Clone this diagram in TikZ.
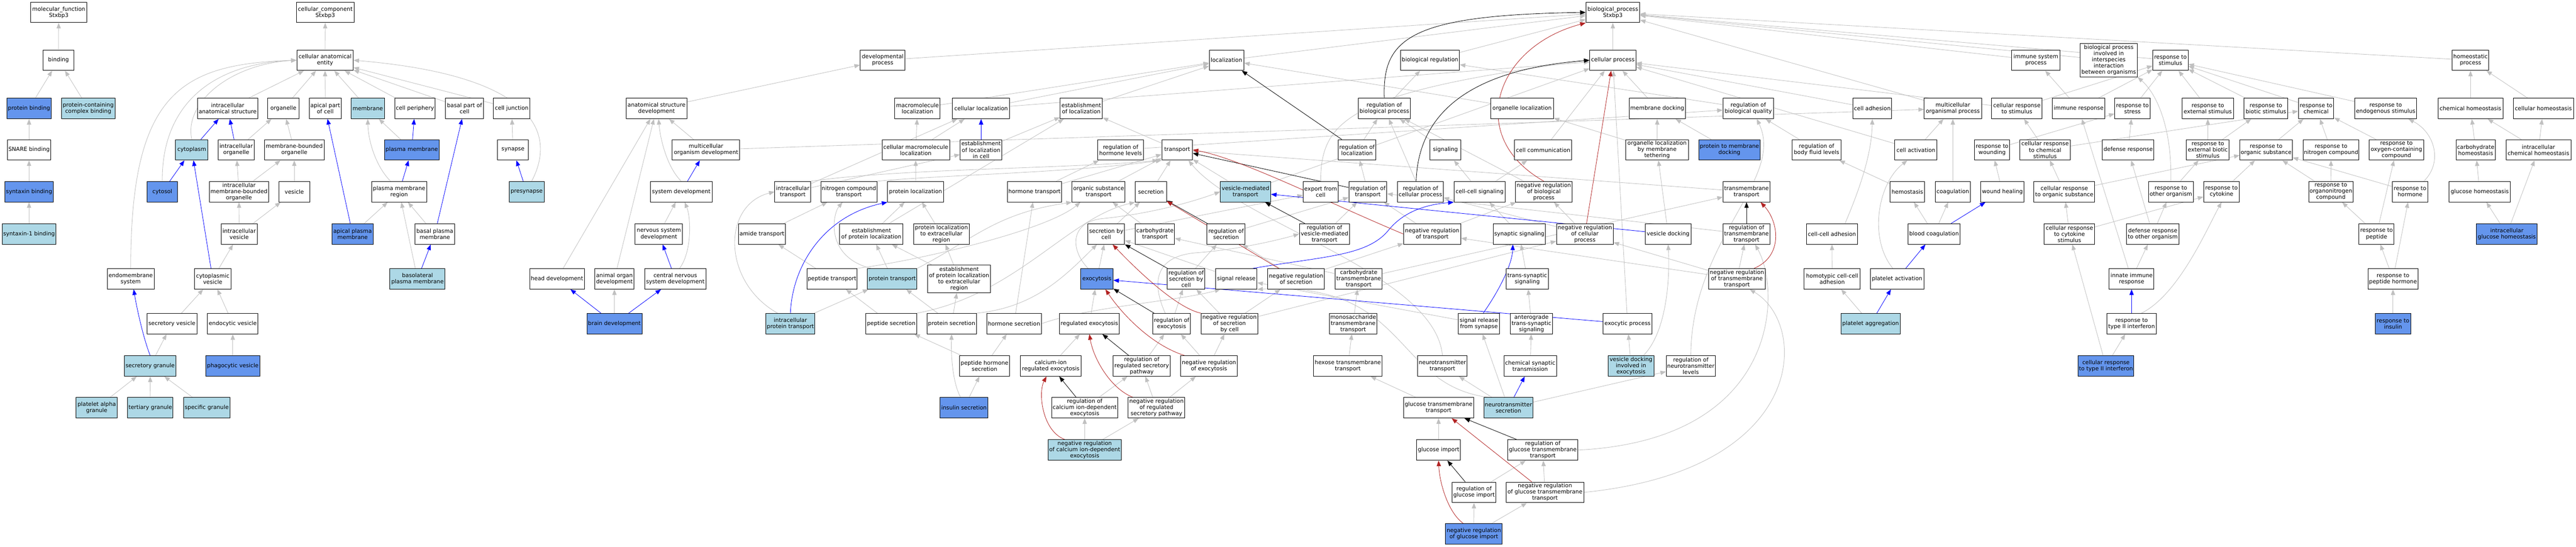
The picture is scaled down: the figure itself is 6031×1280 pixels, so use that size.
\documentclass[tikz,border=0pt]{standalone}
\usepackage{fontspec}
\setmainfont{DejaVu Sans}
\usetikzlibrary{arrows.meta}
\definecolor{lblue}{RGB}{173,216,230}
\definecolor{cblue}{RGB}{100,149,237}
\definecolor{egray}{RGB}{192,192,192}
\definecolor{fbrick}{RGB}{178,34,34}
\pgfdeclarelayer{back}
\pgfdeclarelayer{bg}
\pgfsetlayers{back,bg,main}
\tikzset{
 n/.style={draw=black, line width=1.2pt, fill=white, rectangle, inner sep=0pt, align=center, minimum height=48pt, font=\fontsize{13}{14.5}\selectfont},
 lb/.style={n, fill=lblue},
 db/.style={n, fill=cblue},
 ed/.style={line width=1.0pt, -{Triangle[length=13pt,width=10pt]}},
 ge/.style={ed, draw=egray},
 be/.style={ed, draw=blue},
 ke/.style={ed, draw=black},
 re/.style={ed, draw=fbrick},
}
\newcommand\gnode[6][n]{%
 \pgfmathsetmacro\gcx{(#3+#4)/2}%
 \pgfmathsetmacro\gww{#4-#3}%
 \node[#1, minimum width=\gww pt] (#2) at (\gcx,#5) {#6};}
\begin{document}
\begin{tikzpicture}[x=1pt,y=-1pt]
\begin{pgfonlayer}{back}
\fill[white] (0,0) rectangle (6031,1280);
\end{pgfonlayer}
\useasboundingbox (0,0) rectangle (6031,1280);
% ---------- molecular function
\gnode{mf}{72}{203}{29}{molecular\_function\\Stxbp3}
\gnode{binding}{101}{173}{141}{binding}
\gnode[db]{protbind}{16}{120}{254}{protein binding}
\gnode[lb]{pcbind}{144}{269}{254}{protein-containing\\complex binding}
\gnode{snare}{17}{119}{351}{SNARE binding}
\gnode[db]{syntaxin}{11}{125}{449}{syntaxin binding}
\gnode[lb]{synone}{5}{131}{548}{syntaxin-1 binding}
% ---------- cellular component
\gnode{cc}{694}{829}{29}{cellular\_component\\Stxbp3}
\gnode{cae}{695}{827}{141}{cellular anatomical\\entity}
\gnode{ias}{462}{604}{254}{intracellular\\anatomical structure}
\gnode[lb]{cytoplasm}{411}{487}{351}{cytoplasm}
\gnode{iorg}{511}{595}{351}{intracellular\\organelle}
\gnode[db]{cytosol}{344}{416}{449}{cytosol}
\gnode{imbo}{490}{629}{449}{intracellular\\membrane-bounded\\organelle}
\gnode{ivesicle}{518}{602}{548}{intracellular\\vesicle}
\gnode{endomem}{251}{361}{653}{endomembrane\\system}
\gnode{cytves}{455}{541}{653}{cytoplasmic\\vesicle}
\gnode{secves}{344}{461}{758}{secretory vesicle}
\gnode{endoves}{486}{604}{758}{endocytic vesicle}
\gnode[lb]{secgran}{291}{412}{857}{secretory granule}
\gnode[db]{phago}{482}{608}{857}{phagocytic vesicle}
\gnode[lb]{platalpha}{178}{275}{955}{platelet alpha\\granule}
\gnode[lb]{tertiary}{299}{405}{955}{tertiary granule}
\gnode[lb]{specific}{430}{538}{955}{specific granule}
\gnode{organelle}{627}{700}{254}{organelle}
\gnode{apical}{724}{799}{254}{apical part\\of cell}
\gnode[lb]{membrane}{822}{900}{254}{membrane}
\gnode{cellper}{924}{1019}{254}{cell periphery}
\gnode{basalpart}{1043}{1132}{254}{basal part of\\cell}
\gnode{celljunc}{1155}{1241}{254}{cell junction}
\gnode{mbo}{619}{759}{351}{membrane-bounded\\organelle}
\gnode[db]{pm}{900}{1028}{351}{plasma membrane}
\gnode{synapse}{1165}{1237}{351}{synapse}
\gnode{vesicle}{653}{725}{449}{vesicle}
\gnode{pmr}{870}{999}{449}{plasma membrane\\region}
\gnode[lb]{presyn}{1192}{1274}{449}{presynapse}
\gnode[db]{apm}{777}{874}{548}{apical plasma\\membrane}
\gnode{bpm}{971}{1065}{548}{basal plasma\\membrane}
\gnode[lb]{blpm}{913}{1042}{653}{basolateral\\plasma membrane}
% ---------- development
\gnode{asd}{1466}{1608}{254}{anatomical structure\\development}
\gnode{mod}{1574}{1732}{351}{multicellular\\organism development}
\gnode{sysdev}{1523}{1667}{449}{system development}
\gnode{nsd}{1487}{1598}{548}{nervous system\\development}
\gnode{headdev}{1240}{1368}{653}{head development}
\gnode{aod}{1393}{1484}{653}{animal organ\\development}
\gnode{cnsd}{1509}{1653}{653}{central nervous\\system development}
\gnode[db]{braindev}{1374}{1503}{758}{brain development}
% ---------- transport / localization
\gnode{amide}{1729}{1839}{548}{amide transport}
\gnode[lb]{ipt}{1793}{1908}{758}{intracellular\\protein transport}
\gnode{itrans}{1814}{1898}{449}{intracellular\\transport}
\gnode{devproc}{2014}{2119}{141}{developmental\\process}
\gnode{macroloc}{2095}{2201}{254}{macromolecule\\localization}
\gnode{cellloc}{2230}{2364}{254}{cellular localization}
\gnode{cml}{2065}{2223}{351}{cellular macromolecule\\localization}
\gnode{elc}{2248}{2346}{351}{establishment\\of localization\\in cell}
\gnode{nct}{1922}{2053}{449}{nitrogen compound\\transport}
\gnode{protloc}{2078}{2209}{449}{protein localization}
\gnode{hormtrans}{2359}{2485}{449}{hormone transport}
\gnode{epl}{1966}{2114}{548}{establishment\\of protein localization}
\gnode{pler}{2139}{2269}{548}{protein localization\\to extracellular\\region}
\gnode{peptrans}{1889}{2007}{653}{peptide transport}
\gnode[lb]{prottrans}{2031}{2147}{653}{protein transport}
\gnode[n,minimum height=65pt]{epler}{2172}{2319}{653}{establishment\\of protein localization\\to extracellular\\region}
\gnode{pepsec}{2027}{2146}{758}{peptide secretion}
\gnode{protsec}{2170}{2286}{758}{protein secretion}
\gnode{hormsec}{2310}{2438}{758}{hormone secretion}
\gnode{phs}{2246}{2364}{857}{peptide hormone\\secretion}
\gnode{cire}{2389}{2531}{857}{calcium-ion\\regulated exocytosis}
\gnode[db]{insulin}{2201}{2313}{955}{insulin secretion}
% ---------- secretion
\gnode{loc}{2831}{2912}{141}{localization}
\gnode{estloc}{2482}{2581}{254}{establishment\\of localization}
\gnode{rhl}{2570}{2677}{351}{regulation of\\hormone levels}
\gnode{transport}{2720}{2792}{351}{transport}
\gnode{ost}{2510}{2634}{449}{organic substance\\transport}
\gnode{secretion}{2658}{2731}{449}{secretion}
\gnode[lb]{vmt}{2857}{2975}{449}{vesicle-mediated\\transport}
\gnode{sbc}{2547}{2633}{548}{secretion by\\cell}
\gnode{carbtrans}{2658}{2750}{548}{carbohydrate\\transport}
\gnode{regsec}{2826}{2915}{548}{regulation of\\secretion}
\gnode[db]{exocytosis}{2530}{2606}{653}{exocytosis}
\gnode{rsbc}{2733}{2821}{653}{regulation of\\secretion by\\cell}
\gnode{sigrel}{2846}{2943}{653}{signal release}
\gnode{nrs}{2968}{3101}{653}{negative regulation\\of secretion}
\gnode{regexo}{2480}{2621}{758}{regulated exocytosis}
\gnode{roe}{2699}{2787}{758}{regulation of\\exocytosis}
\gnode{nrsbc}{2812}{2945}{758}{negative regulation\\of secretion\\by cell}
\gnode{rrsp}{2606}{2740}{857}{regulation of\\regulated secretory\\pathway}
\gnode{nre}{2764}{2897}{857}{negative regulation\\of exocytosis}
\gnode{rcide}{2462}{2617}{955}{regulation of\\calcium ion-dependent\\exocytosis}
\gnode{nrrsp}{2641}{2774}{955}{negative regulation\\of regulated\\secretory pathway}
\gnode[lb]{nrcide}{2454}{2625}{1054}{negative regulation\\of calcium ion-dependent\\exocytosis}
% ---------- regulation / signaling / glucose
\gnode{bioreg}{3279}{3417}{141}{biological regulation}
\gnode{rbp}{3180}{3302}{254}{regulation of\\biological process}
\gnode{orgloc}{3490}{3637}{254}{organelle localization}
\gnode{rloc}{3133}{3221}{351}{regulation of\\localization}
\gnode{signaling}{3348}{3420}{351}{signaling}
\gnode{cellcomm}{3546}{3680}{351}{cell communication}
\gnode{efc}{3051}{3133}{449}{export from\\cell}
\gnode{rt}{3158}{3247}{449}{regulation of\\transport}
\gnode{rcp}{3272}{3379}{449}{regulation of\\cellular process}
\gnode{ccs}{3404}{3524}{449}{cell-cell signaling}
\gnode{nrbp}{3548}{3681}{449}{negative regulation\\of biological\\process}
\gnode{rvmt}{3042}{3160}{548}{regulation of\\vesicle-mediated\\transport}
\gnode{nrt}{3286}{3420}{548}{negative regulation\\of transport}
\gnode{synsig}{3496}{3618}{548}{synaptic signaling}
\gnode{ctt}{3126}{3236}{653}{carbohydrate\\transmembrane\\transport}
\gnode{tss}{3526}{3625}{653}{trans-synaptic\\signaling}
\gnode{mtt}{3112}{3224}{758}{monosaccharide\\transmembrane\\transport}
\gnode{srs}{3414}{3511}{758}{signal release\\from synapse}
\gnode{atss}{3536}{3635}{758}{anterograde\\trans-synaptic\\signaling}
\gnode{htt}{3075}{3236}{857}{hexose transmembrane\\transport}
\gnode{nt}{3319}{3435}{857}{neurotransmitter\\transport}
\gnode{cst}{3521}{3644}{857}{chemical synaptic\\transmission}
\gnode{gtt}{3286}{3450}{955}{glucose transmembrane\\transport}
\gnode[lb]{nts}{3474}{3589}{955}{neurotransmitter\\secretion}
\gnode{gimport}{3317}{3419}{1054}{glucose import}
\gnode{rgtt}{3530}{3694}{1054}{regulation of\\glucose transmembrane\\transport}
\gnode{rgi}{3400}{3502}{1153}{regulation of\\glucose import}
\gnode{nrgtt}{3526}{3708}{1153}{negative regulation\\of glucose transmembrane\\transport}
\gnode[db]{nrgi}{3384}{3517}{1250}{negative regulation\\of glucose import}
% ---------- cellular process
\gnode{bp}{3713}{3839}{29}{biological\_process\\Stxbp3}
\gnode{cp}{3722}{3830}{141}{cellular process}
\gnode{memdock}{3814}{3946}{254}{membrane docking}
\gnode{rbq}{4034}{4152}{254}{regulation of\\biological quality}
\gnode{olmt}{3806}{3953}{351}{organelle localization\\by membrane\\tethering}
\gnode[db]{ptmd}{3977}{4121}{351}{protein to membrane\\docking}
\gnode{rbfl}{4196}{4310}{351}{regulation of\\body fluid levels}
\gnode{tt}{4034}{4144}{449}{transmembrane\\transport}
\gnode{nrcp}{3644}{3777}{548}{negative regulation\\of cellular\\process}
\gnode{vd}{3852}{3959}{548}{vesicle docking}
\gnode{rtt}{4034}{4144}{548}{regulation of\\transmembrane\\transport}
\gnode{nrtt}{4000}{4133}{653}{negative regulation\\of transmembrane\\transport}
\gnode{exoproc}{3753}{3868}{758}{exocytic process}
\gnode[lb]{vdie}{3765}{3872}{857}{vesicle docking\\involved in\\exocytosis}
\gnode{rnl}{3901}{4016}{857}{regulation of\\neurotransmitter\\levels}
% ---------- adhesion / coagulation
\gnode{isp}{4710}{4823}{141}{immune system\\process}
\gnode{celladh}{4338}{4429}{254}{cell adhesion}
\gnode{mop}{4505}{4639}{254}{multicellular\\organismal process}
\gnode{crs}{4663}{4781}{254}{cellular response\\to stimulus}
\gnode{cellact}{4436}{4535}{351}{cell activation}
\gnode{rw}{4623}{4705}{351}{response to\\wounding}
\gnode{crcs}{4729}{4847}{351}{cellular response\\to chemical\\stimulus}
\gnode{hemostasis}{4425}{4506}{449}{hemostasis}
\gnode{coag}{4531}{4613}{449}{coagulation}
\gnode{wh}{4637}{4739}{449}{wound healing}
\gnode{cros}{4762}{4904}{449}{cellular response\\to organic substance}
\gnode{cca}{4229}{4349}{548}{cell-cell adhesion}
\gnode{bc}{4467}{4589}{548}{blood coagulation}
\gnode{crcys}{4786}{4904}{548}{cellular response\\to cytokine\\stimulus}
\gnode{hcca}{4224}{4355}{653}{homotypic cell-cell\\adhesion}
\gnode{platact}{4379}{4504}{653}{platelet activation}
\gnode[lb]{plagg}{4310}{4449}{758}{platelet aggregation}
% ---------- response
\gnode[n,minimum height=78pt]{bpii}{4870}{5004}{141}{biological process\\involved in\\interspecies\\interaction\\between organisms}
\gnode{rstim}{5040}{5123}{141}{response to\\stimulus}
\gnode{immresp}{4805}{4928}{254}{immune response}
\gnode{rstress}{4951}{5034}{254}{response to\\stress}
\gnode{res}{5109}{5229}{254}{response to\\external stimulus}
\gnode{rbs}{5254}{5356}{254}{response to\\biotic stimulus}
\gnode{rchem}{5381}{5464}{254}{response to\\chemical}
\gnode{defresp}{4922}{5043}{351}{defense response}
\gnode{rebs}{5119}{5219}{351}{response to\\external biotic\\stimulus}
\gnode{ros}{5244}{5367}{351}{response to\\organic substance}
\gnode{rnc}{5392}{5523}{351}{response to\\nitrogen compound}
\gnode{roo}{5030}{5135}{449}{response to\\other organism}
\gnode{rcyt}{5159}{5243}{449}{response to\\cytokine}
\gnode{ronc}{5405}{5509}{449}{response to\\organonitrogen\\compound}
\gnode{drtoo}{4979}{5101}{548}{defense response\\to other organism}
\gnode{iir}{4938}{5043}{653}{innate immune\\response}
\gnode{rt2i}{4933}{5048}{758}{response to\\type II interferon}
\gnode[db]{crt2i}{4865}{4996}{857}{cellular response\\to type II interferon}
\gnode{hp}{5741}{5827}{141}{homeostatic\\process}
\gnode{rendo}{5513}{5658}{254}{response to\\endogenous stimulus}
\gnode{chemhomeo}{5708}{5860}{254}{chemical homeostasis}
\gnode{cellhomeo}{5884}{6025}{254}{cellular homeostasis}
\gnode{rocc}{5547}{5674}{351}{response to\\oxygen-containing\\compound}
\gnode{carbhomeo}{5750}{5842}{351}{carbohydrate\\homeostasis}
\gnode{ich}{5867}{6019}{351}{intracellular\\chemical homeostasis}
\gnode{rhorm}{5601}{5684}{449}{response to\\hormone}
\gnode{ghomeo}{5734}{5877}{449}{glucose homeostasis}
\gnode{rpep}{5523}{5605}{548}{response to\\peptide}
\gnode[db]{igh}{5798}{5940}{548}{intracellular\\glucose homeostasis}
\gnode{rph}{5544}{5661}{653}{response to\\peptide hormone}
\gnode[db]{rins}{5561}{5644}{758}{response to\\insulin}
% ================= edges
\begin{pgfonlayer}{bg}
\foreach \a/\b in {binding/mf,protbind/binding,pcbind/binding,snare/protbind,syntaxin/snare,synone/syntaxin,
 cae/cc,ias/cae,iorg/organelle,imbo/iorg,imbo/mbo,ivesicle/imbo,ivesicle/vesicle,cytves/ivesicle,secves/cytves,endoves/cytves,
 secgran/secves,phago/endoves,platalpha/secgran,tertiary/secgran,specific/secgran,organelle/cae,apical/cae,membrane/cae,
 cellper/cae,basalpart/cae,celljunc/cae,mbo/organelle,vesicle/mbo,pm/membrane,apm/pmr,bpm/pmr,blpm/pmr,synapse/celljunc,
 asd/devproc,mod/asd,mod/mop,nsd/sysdev,headdev/asd,aod/asd,braindev/aod,devproc/bp,
 ipt/prottrans,amide/nct,peptrans/amide,prottrans/epl,epl/protloc,epl/estloc,pler/protloc,
 epler/epl,epler/pler,cml/macroloc,cml/cellloc,protloc/cml,elc/estloc,itrans/elc,itrans/cellloc,
 macroloc/loc,cellloc/loc,cellloc/cp,pepsec/peptrans,protsec/prottrans,protsec/epler,
 hormsec/hormtrans,phs/pepsec,phs/hormsec,insulin/phs,estloc/loc,transport/estloc,rhl/rbq,hormtrans/rhl,
 hormtrans/transport,ost/transport,secretion/transport,vmt/transport,vmt/cp,sbc/secretion,sbc/efc,carbtrans/ost,regsec/rt,
 exocytosis/sbc,rsbc/regsec,sigrel/sbc,nrs/regsec,nrs/nrt,regexo/exocytosis,roe/rsbc,nrsbc/rsbc,nrsbc/nrs,nrsbc/nrcp,
 cire/regexo,rrsp/roe,nre/roe,nre/nrsbc,rcide/rrsp,nrrsp/rrsp,nrrsp/nre,nrcide/rcide,nrcide/nrrsp,
 rbp/bioreg,rloc/rbp,rcp/rbp,nrbp/rbp,signaling/rbp,ccs/signaling,ccs/cellcomm,synsig/ccs,tss/synsig,atss/tss,cst/atss,
 nts/srs,nts/nt,nts/rnl,srs/sigrel,gtt/htt,htt/mtt,mtt/ctt,ctt/carbtrans,ctt/tt,gimport/gtt,rgi/rgtt,nrgtt/rgtt,nrgi/rgi,
 nrgi/nrgtt,cp/bp,memdock/cp,olmt/memdock,olmt/orgloc,ptmd/memdock,vd/olmt,exoproc/cp,vdie/exoproc,tt/transport,
 rtt/rt,nrtt/rtt,nrtt/nrt,nrtt/nrcp,rbq/bioreg,rbfl/rbq,orgloc/loc,cellcomm/cp,nrcp/nrbp,nrcp/rcp,nrt/rt,nrt/nrbp,rvmt/rt,
 rt/rloc,loc/bp,bioreg/bp,celladh/cp,mop/bp,crs/cp,crs/rstim,isp/bp,cellact/cp,cellact/mop,rw/rstress,crcs/crs,crcs/rchem,
 hemostasis/rbfl,coag/mop,wh/rw,cros/crcs,cros/ros,bc/hemostasis,bc/coag,hcca/cca,plagg/hcca,bpii/bp,rstim/bp,
 immresp/isp,immresp/rstim,rstress/rstim,res/rstim,rbs/rstim,rchem/rstim,rendo/rstim,defresp/rstress,rebs/res,rebs/rbs,
 ros/rchem,rnc/rchem,roo/rebs,rcyt/ros,ronc/ros,ronc/rnc,crcys/cros,crcys/rcyt,drtoo/defresp,drtoo/roo,iir/immresp,
 iir/drtoo,crt2i/crcys,crt2i/rt2i,rocc/rchem,rhorm/ros,rpep/ronc,rpep/rocc,rph/rpep,rph/rhorm,rins/rph,hp/bp,
 chemhomeo/hp,cellhomeo/hp,carbhomeo/chemhomeo,ich/chemhomeo,ich/cellhomeo,ghomeo/carbhomeo,igh/ghomeo,igh/ich}
 \draw[ge] (\a) -- (\b);
% gray curves
\draw[ge] (cytoplasm.north) .. controls (430,240) and (540,150) .. (cae.west);
\draw[ge] (cytosol.north) .. controls (378,260) and (480,150) .. (cae.west);
\draw[ge] (endomem.north) .. controls (306,220) and (420,150) .. (cae.west);
\draw[ge] ([xshift=-30pt]presyn.north east) .. controls (1295,330) and (1285,180) .. (cae.east);
\draw[ge] ([xshift=-20pt]pmr.north) .. controls (880,390) and (862,330) .. (membrane.south);
\draw[ge] (sysdev.north) .. controls (1560,390) and (1545,320) .. ([xshift=5pt]asd.south);
\draw[ge] ([xshift=10pt]cnsd.north) .. controls (1620,590) and (1618,510) .. ([xshift=8pt]sysdev.south);
\draw[ge] ([xshift=-30pt]ipt.north) .. controls (1690,660) and (1690,480) .. (itrans.west);
\draw[ge] ([xshift=8pt]prottrans.north west) .. controls (1930,600) and (1950,500) .. ([xshift=-15pt]nct.south);
\draw[ge] ([xshift=-8pt]insulin.north) .. controls (2232,900) and (2226,840) .. (protsec.south);
\draw[ge] (itrans.north east) .. controls (2100,395) and (2500,395) .. ([xshift=-8pt]transport.south west);
\draw[ge] (nct.north east) .. controls (2200,410) and (2500,405) .. (transport.south west);
\draw[ge] (peptrans.north east) .. controls (2150,610) and (2450,540) .. ([xshift=20pt]ost.south west);
\draw[ge] (prottrans.north east) .. controls (2280,560) and (2330,500) .. (ost.south west);
\draw[ge] (pepsec.north east) .. controls (2380,690) and (2500,510) .. (secretion.south west);
\draw[ge] (protsec.north east) .. controls (2420,720) and (2490,650) .. ([xshift=-22pt]sbc.south);
\draw[ge] (hormsec.east) .. controls (2550,718) and (2760,705) .. ([xshift=12pt]sigrel.south west);
\draw[ge] (efc.north) .. controls (3092,280) and (3160,215) .. (cp.west);
\draw[ge] ([xshift=18pt]exocytosis.north west) .. controls (2505,585) and (2505,520) .. (2580,512) .. controls (2700,500) and (2800,470) .. (vmt.west);
\draw[ge] ([xshift=-15pt]roe.north) .. controls (2695,660) and (2705,600) .. (2800,592) .. controls (2900,585) and (3000,560) .. (rvmt.west);
\draw[ge] ([xshift=10pt]nts.north west) .. controls (3260,900) and (3300,660) .. (sigrel.south east);
\draw[ge] (nt.north) .. controls (3360,640) and (2900,520) .. ([xshift=-10pt]transport.south east);
\draw[ge] (rgtt.east) .. controls (4170,1030) and (4170,680) .. ([xshift=20pt]rtt.south);
\draw[ge] (nrgtt.east) .. controls (4235,1100) and (4235,760) .. ([xshift=30pt]nrtt.south);
\draw[ge] ([xshift=-25pt]vdie.north east) .. controls (3900,780) and (3910,660) .. (vd.south);
\draw[ge] (rnl.north) .. controls (3960,560) and (4180,420) .. ([xshift=20pt]rbq.south);
\draw[ge] ([xshift=-10pt]platact.north) .. controls (4375,560) and (4395,430) .. ([xshift=-20pt]cellact.south);
\draw[ge] ([xshift=-30pt]cca.north east) .. controls (4355,440) and (4382,360) .. (celladh.south);
\draw[ge] ([xshift=-10pt]rhorm.north east) .. controls (5720,380) and (5700,310) .. ([xshift=-20pt]rendo.south east);
\draw[ge] ([xshift=-35pt]rt2i.north east) .. controls (5100,690) and (5165,540) .. (rcyt.south);
\draw[ge] (roo.north) .. controls (5085,300) and (5050,220) .. (bpii.south east);
% blue (part of)
\foreach \a/\b in {cytoplasm/ias,iorg/ias,cytosol/cytoplasm,cytves/cytoplasm,pm/cellper,pmr/pm,apm/apical,bpm/basalpart,
 blpm/bpm,presyn/synapse,sysdev/mod,cnsd/nsd,braindev/headdev,braindev/cnsd,elc/cellloc,exoproc/exocytosis,vd/vmt,
 nts/cst,bc/wh,platact/bc,plagg/platact,rt2i/iir}
 \draw[be] (\a) -- (\b);
\draw[be] (secgran.north) .. controls (335,790) and (320,720) .. ([xshift=7pt]endomem.south);
\draw[be] (ipt.north) .. controls (1855,620) and (1930,505) .. (protloc.south west);
\draw[be] ([xshift=-10pt]sigrel.north east) .. controls (3100,600) and (3200,600) .. (3250,540) .. controls (3290,490) and (3350,478) .. (ccs.south west);
\draw[be] ([xshift=10pt]srs.north) .. controls (3510,680) and (3540,620) .. ([xshift=-15pt]synsig.south);
% black (regulates)
\foreach \a/\b in {regsec/secretion,rsbc/sbc,roe/exocytosis,rrsp/regexo,rcide/cire,rloc/loc,rt/transport,rvmt/vmt,
 rtt/tt,rgtt/gtt,rgi/gimport}
 \draw[ke] (\a) -- (\b);
\draw[ke] (rbp.north) .. controls (3236,90) and (3300,35) .. (bp.west);
\draw[ke] ([xshift=-10pt]rcp.north) .. controls (3320,280) and (3420,165) .. (cp.west);
% red (negatively regulates)
\foreach \a/\b in {nrs/secretion,nrcp/cp,nrgtt/gtt}
 \draw[re] (\a) -- (\b);
\draw[re] (nrbp.north) .. controls (3430,320) and (3500,110) .. (bp.south west);
\draw[re] ([xshift=10pt]nre.north west) .. controls (2700,810) and (2630,740) .. ([xshift=20pt]exocytosis.south);
\draw[re] ([xshift=12pt]nrrsp.north west) .. controls (2600,910) and (2560,840) .. (regexo.south);
\draw[re] ([xshift=40pt]nrcide.north west) .. controls (2440,1010) and (2430,920) .. ([xshift=-10pt]cire.south);
\draw[re] (nrt.west) .. controls (3100,470) and (2900,370) .. (transport.east);
\draw[re] ([xshift=-27pt]nrtt.north east) .. controls (4175,600) and (4165,520) .. ([xshift=33pt]tt.south);
\draw[re] ([xshift=-25pt]nrgi.north) .. controls (3390,1200) and (3370,1130) .. (gimport.south);
\draw[re] (nrsbc.north west) .. controls (2750,720) and (2650,620) .. ([xshift=15pt]sbc.south);
\end{pgfonlayer}
\end{tikzpicture}
\end{document}
